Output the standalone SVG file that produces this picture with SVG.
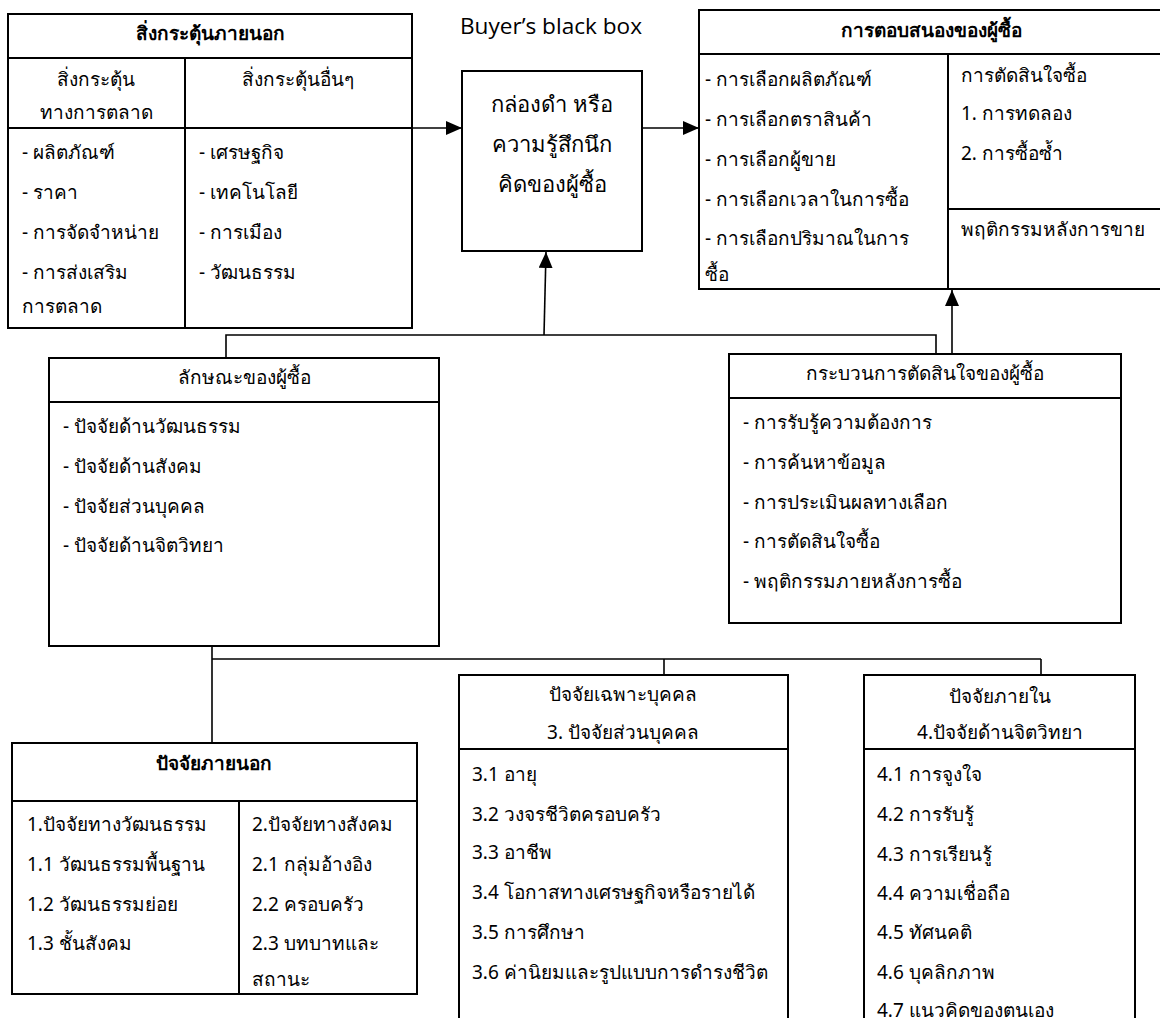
<svg xmlns="http://www.w3.org/2000/svg" width="1160" height="1026" viewBox="0 0 1160 1026">
<defs>
<style>
.box{fill:#fff;stroke:#000;stroke-width:2}
.ln{fill:none;stroke:#000;stroke-width:2}
.cn{fill:none;stroke:#000;stroke-width:1.6}
text{font-family:"Noto Sans","DejaVu Sans",sans-serif;font-size:19px;fill:#000}
.b{font-weight:bold}
.c{text-anchor:middle}
.big{font-size:22px}
.en{font-family:"Open Sans","Liberation Sans",sans-serif;font-size:22.6px}
</style>
<marker id="ar" viewBox="0 0 16 14" refX="16" refY="7" markerWidth="16" markerHeight="14" markerUnits="userSpaceOnUse" orient="auto">
<path d="M0,0 L16,7 L0,14 Z" fill="#000"/>
</marker>
</defs>

<g id="connectors">
<line class="cn" x1="412" y1="128" x2="462" y2="128" marker-end="url(#ar)"/>
<line class="cn" x1="642" y1="128" x2="699" y2="128" marker-end="url(#ar)"/>
<polyline class="cn" points="226,358 226,335 936,335 936,354"/>
<line class="cn" x1="544" y1="335" x2="546" y2="252" marker-end="url(#ar)"/>
<line class="cn" x1="952" y1="354" x2="952" y2="290" marker-end="url(#ar)"/>
<line class="cn" x1="212" y1="646" x2="212" y2="743"/>
<line class="cn" x1="212" y1="659" x2="1041" y2="659"/>
<line class="cn" x1="664" y1="659" x2="664" y2="675"/>
<line class="cn" x1="1041" y1="659" x2="1041" y2="675"/>
</g>

<g id="external-stimuli">
<rect class="box" x="8" y="14" width="404" height="314"/>
<line class="ln" x1="8" y1="58" x2="412" y2="58"/>
<line class="ln" x1="185" y1="58" x2="185" y2="328"/>
<line class="ln" x1="8" y1="128" x2="412" y2="128"/>
<text class="b c" x="210" y="40">สิ่งกระตุ้นภายนอก</text>
<text class="c" x="96" y="86">สิ่งกระตุ้น</text>
<text class="c" x="96" y="119">ทางการตลาด</text>
<text class="c" x="298" y="86">สิ่งกระตุ้นอื่นๆ</text>
<text x="22" y="159">- ผลิตภัณฑ์</text>
<text x="22" y="199">- ราคา</text>
<text x="22" y="239">- การจัดจำหน่าย</text>
<text x="22" y="279">- การส่งเสริม</text>
<text x="22" y="313">การตลาด</text>
<text x="199" y="159">- เศรษฐกิจ</text>
<text x="199" y="199">- เทคโนโลยี</text>
<text x="199" y="239">- การเมือง</text>
<text x="199" y="279">- วัฒนธรรม</text>
</g>

<g id="black-box-label">
<text class="en c" x="551" y="34">Buyer’s black box</text>
</g>

<g id="black-box">
<rect class="box" x="462" y="71" width="180" height="180"/>
<text class="c big" x="552" y="112">กล่องดำ หรือ</text>
<text class="c big" x="552" y="152">ความรู้สึกนึก</text>
<text class="c big" x="552" y="192">คิดของผู้ซื้อ</text>
</g>

<g id="buyer-response">
<rect class="box" x="699" y="10" width="470" height="279"/>
<line class="ln" x1="699" y1="54" x2="1160" y2="54"/>
<line class="ln" x1="948" y1="54" x2="948" y2="289"/>
<line class="ln" x1="948" y1="209" x2="1160" y2="209"/>
<text class="b c" x="931" y="37">การตอบสนองของผู้ซื้อ</text>
<text x="705" y="86">- การเลือกผลิตภัณฑ์</text>
<text x="705" y="126">- การเลือกตราสินค้า</text>
<text x="705" y="166">- การเลือกผู้ขาย</text>
<text x="705" y="206">- การเลือกเวลาในการซื้อ</text>
<text x="705" y="245">- การเลือกปริมาณในการ</text>
<text x="705" y="281">ซื้อ</text>
<text x="961" y="82">การตัดสินใจซื้อ</text>
<text x="961" y="120">1. การทดลอง</text>
<text x="961" y="160">2. การซื้อซ้ำ</text>
<text x="961" y="236">พฤติกรรมหลังการขาย</text>
</g>

<g id="buyer-characteristics">
<rect class="box" x="49" y="358" width="390" height="288"/>
<line class="ln" x1="49" y1="402" x2="439" y2="402"/>
<text class="c" x="244" y="384">ลักษณะของผู้ซื้อ</text>
<text x="63" y="433">- ปัจจัยด้านวัฒนธรรม</text>
<text x="63" y="473">- ปัจจัยด้านสังคม</text>
<text x="63" y="513">- ปัจจัยส่วนบุคคล</text>
<text x="63" y="552">- ปัจจัยด้านจิตวิทยา</text>
</g>

<g id="decision-process">
<rect class="box" x="729" y="354" width="392" height="269"/>
<line class="ln" x1="729" y1="398" x2="1121" y2="398"/>
<text class="c" x="925" y="380">กระบวนการตัดสินใจของผู้ซื้อ</text>
<text x="743" y="429">- การรับรู้ความต้องการ</text>
<text x="743" y="469">- การค้นหาข้อมูล</text>
<text x="743" y="509">- การประเมินผลทางเลือก</text>
<text x="743" y="548">- การตัดสินใจซื้อ</text>
<text x="743" y="588">- พฤติกรรมภายหลังการซื้อ</text>
</g>

<g id="external-factors">
<rect class="box" x="12" y="743" width="405" height="251"/>
<line class="ln" x1="12" y1="801" x2="417" y2="801"/>
<line class="ln" x1="239" y1="801" x2="239" y2="994"/>
<text class="b c" x="214" y="770">ปัจจัยภายนอก</text>
<text x="27" y="831">1.ปัจจัยทางวัฒนธรรม</text>
<text x="27" y="871">1.1 วัฒนธรรมพื้นฐาน</text>
<text x="27" y="911">1.2 วัฒนธรรมย่อย</text>
<text x="27" y="950">1.3 ชั้นสังคม</text>
<text x="252" y="831">2.ปัจจัยทางสังคม</text>
<text x="252" y="871">2.1 กลุ่มอ้างอิง</text>
<text x="252" y="911">2.2 ครอบครัว</text>
<text x="252" y="950">2.3 บทบาทและ</text>
<text x="252" y="986">สถานะ</text>
</g>

<g id="personal-factors">
<path class="ln" d="M459,1018 V675 H788 V1018"/>
<line class="ln" x1="459" y1="749" x2="788" y2="749"/>
<text class="c" x="623" y="701">ปัจจัยเฉพาะบุคคล</text>
<text class="c" x="623" y="739">3. ปัจจัยส่วนบุคคล</text>
<text x="472" y="781">3.1 อายุ</text>
<text x="472" y="821">3.2 วงจรชีวิตครอบครัว</text>
<text x="472" y="859">3.3 อาชีพ</text>
<text x="472" y="899">3.4 โอกาสทางเศรษฐกิจหรือรายได้</text>
<text x="472" y="939">3.5 การศึกษา</text>
<text x="472" y="979">3.6 ค่านิยมและรูปแบบการดำรงชีวิต</text>
</g>

<g id="internal-factors">
<path class="ln" d="M864,1018 V675 H1135 V1018"/>
<line class="ln" x1="864" y1="749" x2="1135" y2="749"/>
<text class="c" x="1000" y="703">ปัจจัยภายใน</text>
<text class="c" x="1000" y="739">4.ปัจจัยด้านจิตวิทยา</text>
<text x="877" y="781">4.1 การจูงใจ</text>
<text x="877" y="821">4.2 การรับรู้</text>
<text x="877" y="861">4.3 การเรียนรู้</text>
<text x="877" y="900">4.4 ความเชื่อถือ</text>
<text x="877" y="939">4.5 ทัศนคติ</text>
<text x="877" y="979">4.6 บุคลิกภาพ</text>
<text x="877" y="1017">4.7 แนวคิดของตนเอง</text>
</g>
</svg>
